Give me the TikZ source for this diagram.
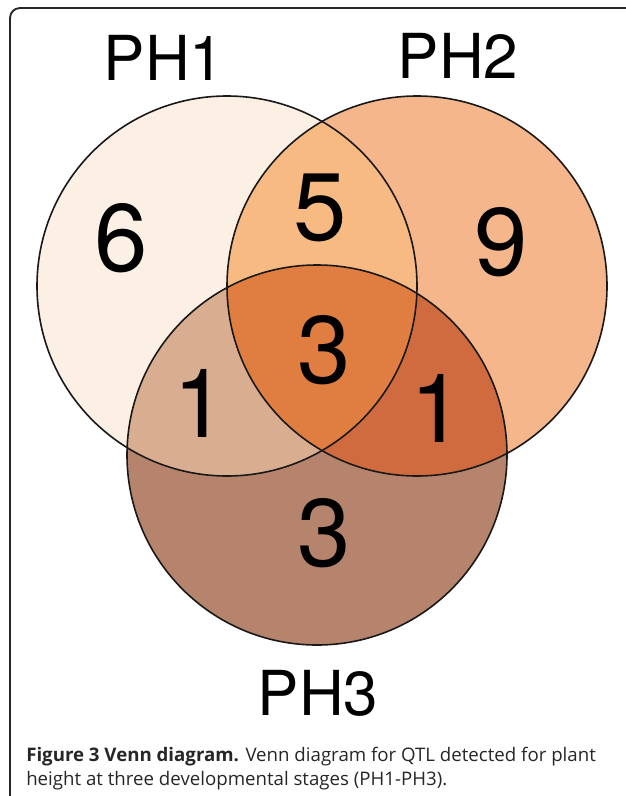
\documentclass[tikz,border=0pt]{standalone}
\usepackage{fontspec}
\setmainfont{TeX Gyre Heros}
\newfontfamily\capfont{Open Sans}
\definecolor{cA}{HTML}{FCEFE3}
\definecolor{cB}{HTML}{F5B68B}
\definecolor{cAB}{HTML}{F7BA83}
\definecolor{cABC}{HTML}{E07E42}
\definecolor{cAC}{HTML}{D9AD8F}
\definecolor{cBC}{HTML}{D06B40}
\definecolor{cC}{HTML}{B6846C}
\tikzset{
  setlabel/.style={anchor=base, inner sep=0pt, font=\fontsize{46.5}{50}\selectfont},
  count/.style={anchor=center, inner sep=0pt, font=\fontsize{72}{76}\selectfont},
  capline/.style={anchor=base west, inner sep=0pt, font=\capfont\fontsize{14}{16}\selectfont, text=black!85},
  ring/.style={draw=black!90, line width=1.2pt}
}
\begin{document}
\begin{tikzpicture}[x=0.75pt, y=-0.75pt]
\useasboundingbox (0,0) rectangle (625,796);
% border
\draw[line width=1.4pt, black!85, rounded corners=7.5pt] (640,8) -- (10,8) -- (10,810);
% circle geometry
\def\rr{190}
\coordinate (A) at (227,286);
\coordinate (B) at (417,286);
\coordinate (C) at (317,455);
% base fills
\fill[cA] (A) circle[radius=\rr];
\fill[cB] (B) circle[radius=\rr];
\fill[cC] (C) circle[radius=\rr];
\begin{scope}
  \clip (A) circle[radius=\rr];
  \fill[cAB] (B) circle[radius=\rr];
  \fill[cAC] (C) circle[radius=\rr];
\end{scope}
\begin{scope}
  \clip (B) circle[radius=\rr];
  \fill[cBC] (C) circle[radius=\rr];
  \clip (A) circle[radius=\rr];
  \fill[cABC] (C) circle[radius=\rr];
\end{scope}
% outlines
\draw[ring] (A) circle[radius=\rr];
\draw[ring] (B) circle[radius=\rr];
\draw[ring] (C) circle[radius=\rr];
% set labels
\node[setlabel] (l1) at (164,80) {PH1};
\node[setlabel] (l2) at (458,78) {PH2};
\node[setlabel] (l3) at (318,715) {PH3};
% counts
\node[count] (n1) at (121,238) {6};
\node[count] (n2) at (501,242) {9};
\node[count] (n12) at (320,208) {5};
\node[count] (n123) at (324,350) {3};
\node[count] (n13) at (200,403) {1};
\node[count] (n23) at (437,408) {1};
\node[count] (n3) at (324,533) {3};
% caption
\node[capline] (cap1) at (26,761) {\textbf{Figure 3 Venn diagram.} Venn diagram for QTL detected for plant};
\node[capline] (cap2) at (26,785) {height at three developmental stages (PH1-PH3).};
\end{tikzpicture}
\end{document}
